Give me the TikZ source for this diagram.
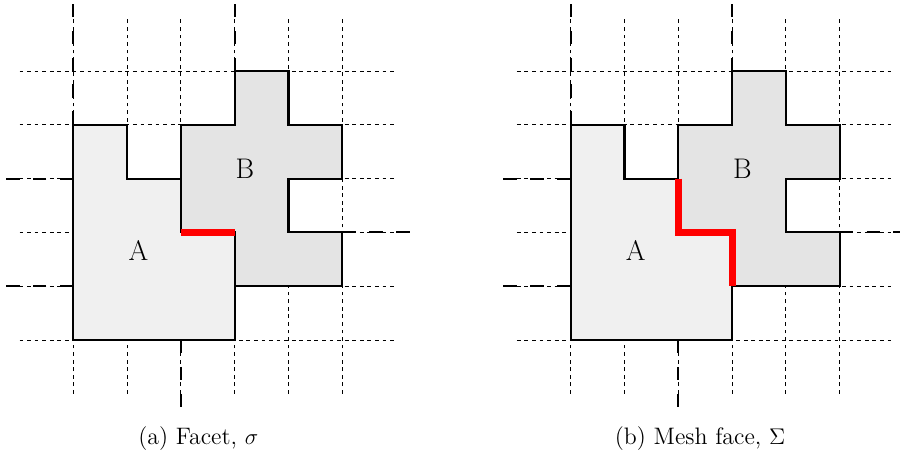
\documentclass[tikz,border=0pt]{standalone}
\definecolor{cellAfill}{RGB}{240,240,240}
\definecolor{cellBfill}{RGB}{228,228,228}
\definecolor{facetred}{RGB}{255,0,0}
\tikzset{
  gridline/.style={line width=0.45pt, dash pattern=on 2pt off 2pt},
  cellborder/.style={draw=black, line width=1.1pt, line join=miter},
  cellA/.style={cellborder, fill=cellAfill},
  cellB/.style={cellborder, fill=cellBfill},
  boundline/.style={line width=1.1pt, dash pattern=on 0.25cm off 0.25cm},
  facetline/.style={draw=facetred, line width=3.7pt, line join=miter},
  celllabel/.style={font=\fontsize{15}{18}\selectfont, inner sep=0pt},
  subcap/.style={font=\fontsize{12.6}{15}\selectfont, anchor=base, inner sep=0pt},
  % grid of cells with the two regions A and B
  cellpanel/.pic={
    \foreach \k in {0,...,5} {
      \draw[gridline] (-1,\k) -- (6,\k);
      \draw[gridline] (\k,-1) -- (\k,6);
    }
    \draw[cellA] (0,4) -- (1,4) -- (1,3) -- (2,3) -- (2,2) -- (3,2)
      -- (3,0) -- (0,0) -- cycle;
    \draw[cellB] (3,5) -- (4,5) -- (4,4) -- (5,4) -- (5,3) -- (4,3)
      -- (4,2) -- (5,2) -- (5,1) -- (3,1) -- (3,2) -- (2,2) -- (2,4)
      -- (3,4) -- cycle;
    % dashed boundary markers leaving the regions
    \draw[boundline] (0,4) -- (0,6.25);
    \draw[boundline] (3,5) -- (3,6.25);
    \draw[boundline] (0,3) -- (-1.25,3);
    \draw[boundline] (0,1) -- (-1.25,1);
    \draw[boundline] (2,0) -- (2,-1.25);
    \draw[boundline] (5,2) -- (6.25,2);
    \node[celllabel] (-A) at (1.21,1.67) {A};
    \node[celllabel] (-B) at (3.19,3.175) {B};
  }
}
\begin{document}
\begin{tikzpicture}[x=1cm,y=1cm]
  \useasboundingbox (0,0) rectangle (16.729,8.476);

  % (a) facet
  \pic (L) at (1.3625,2.156) {cellpanel};
  \begin{scope}[shift={(1.3625,2.156)}]
    \draw[facetline] (2,2) -- (3,2);
  \end{scope}
  \node[subcap] (capa) at (3.686,0.2175) {(a) Facet, $\sigma$};

  % (b) mesh face
  \pic (R) at (10.608,2.156) {cellpanel};
  \begin{scope}[shift={(10.608,2.156)}]
    \draw[facetline] (2,3) -- (2,2) -- (3,2) -- (3,1);
  \end{scope}
  \node[subcap] (capb) at (13.011,0.2175) {(b) Mesh face, $\Sigma$};
\end{tikzpicture}
\end{document}
